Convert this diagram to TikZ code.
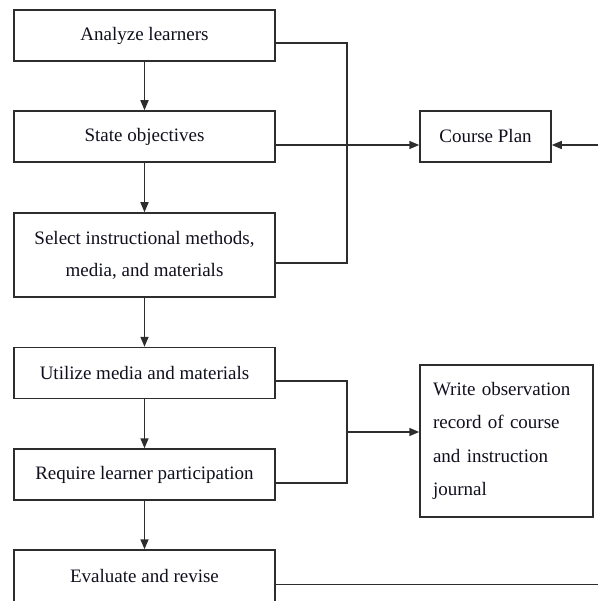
\documentclass[tikz,border=0pt]{standalone}
\usepackage{fontspec}
\setmainfont{Liberation Serif}
\usetikzlibrary{arrows.meta}
\definecolor{linec}{RGB}{45,45,45}
\definecolor{textc}{RGB}{15,15,30}
\begin{document}
\begin{tikzpicture}[x=1pt,y=-1pt,
  box/.style={draw=linec, line width=1.5pt, minimum width=261pt, minimum height=51pt,
    inner sep=2pt, text=textc, font=\fontsize{19}{32}\selectfont},
  ln/.style={draw=linec, line width=1.5pt},
  arr/.style={ln, -{Triangle[length=10pt,width=8pt]}}]
\useasboundingbox (0,0) rectangle (598,601);
\clip (0,0) rectangle (598,601);
\node[box] (b1) at (144.5,35.5) {Analyze learners};
\node[box] (b2) at (144.5,136.5) {State objectives};
\node[box, minimum height=84pt, align=center] (b3) at (144.5,255) {Select instructional methods,\\media, and materials};
\node[box] (b4) at (144.5,373) {Utilize media and materials};
\node[box] (b5) at (144.5,474.5) {Require learner participation};
\node[box, minimum height=69pt] (b6) at (144.5,584.5) {\raisebox{18pt}{Evaluate and revise}};
\node[box, minimum width=131pt] (cp) at (485.5,136.5) {Course Plan};
\node[box, minimum width=173pt, minimum height=152pt, align=left, text width=147pt,
  inner sep=13pt, font=\fontsize{19}{33.5}\selectfont] (wr) at (506.5,441)
  {Write observation\\record of course\\and instruction\\journal};
\coordinate (jx) at (347,0);
\coordinate (cpin) at (598,145);
\coordinate (m2) at (347,432);
\coordinate (b6out) at (598,584.5);
\draw[arr] (b1) -- (b2);
\draw[arr] (b2) -- (b3);
\draw[arr] (b3) -- (b4);
\draw[arr] (b4) -- (b5);
\draw[arr] (b5) -- (b6);
\draw[ln] ([yshift=-7.5pt]b1.east) -- ([yshift=-7.5pt]b1.east -| jx) -- ([yshift=-8pt]b3.east -| jx) -- ([yshift=-8pt]b3.east);
\draw[arr] ([yshift=-8.5pt]b2.east) -- ([yshift=-8.5pt]cp.west);
\draw[arr] (cpin) -- ([yshift=-8.5pt]cp.east);
\draw[ln] ([yshift=-8pt]b4.east) -- ([yshift=-8pt]b4.east -| jx) -- ([yshift=-8.5pt]b5.east -| jx) -- ([yshift=-8.5pt]b5.east);
\draw[arr] (m2) -- (m2 -| wr.west);
\draw[ln] (b6.east) -- (b6out);
\end{tikzpicture}
\end{document}
